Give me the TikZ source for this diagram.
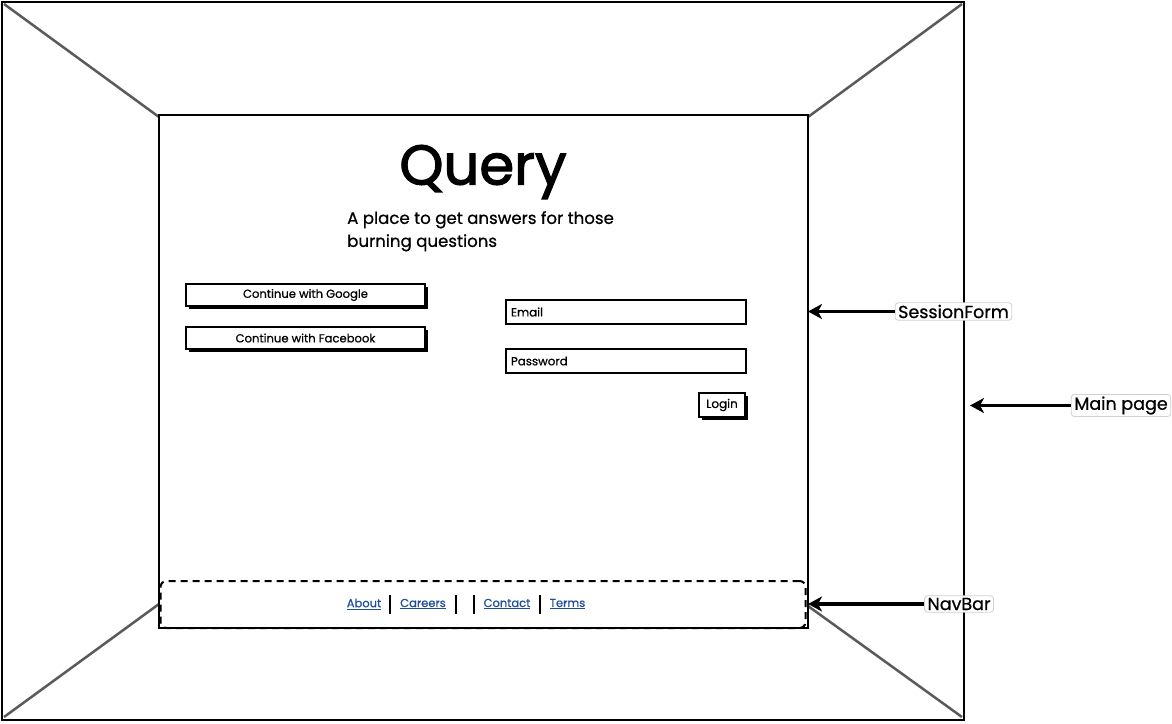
\documentclass[tikz,border=0pt]{standalone}
\usepackage{fontspec}
\setmainfont{Poppins}[FakeBold=0.7]
\newfontfamily\titlefont{Poppins}[FakeBold=2.2]
\usetikzlibrary{arrows.meta,shadows}
\definecolor{linkblue}{HTML}{1F4E9C}
\definecolor{diag}{HTML}{5A5A5A}
\tikzset{
  frame/.style={draw=black,line width=2pt},
  diagline/.style={draw=diag,line width=2.5pt},
  page/.style={draw=black,line width=2pt,fill=white,minimum width=649pt,minimum height=513pt,inner sep=0pt},
  btn/.style={draw=black,line width=1.5pt,fill=white,minimum width=239pt,minimum height=22pt,inner sep=0pt,
    drop shadow={shadow xshift=2.5pt,shadow yshift=-2.5pt,fill=black,opacity=1},font=\fontsize{11.6}{12}\selectfont},
  field/.style={draw=black,line width=2pt,fill=white,minimum height=24pt,text width=230pt,align=left,inner xsep=5pt,inner ysep=0pt,font=\fontsize{11.8}{12}\selectfont},
  loginbtn/.style={draw=black,line width=1.8pt,fill=white,minimum width=46pt,minimum height=24pt,inner sep=0pt,
    drop shadow={shadow xshift=2.5pt,shadow yshift=-2.5pt,fill=black,opacity=1},font=\fontsize{12}{12}\selectfont},
  navbar/.style={draw=black,line width=2pt,dash pattern=on 7pt off 5pt,rounded corners=6pt,minimum width=645pt,minimum height=47pt,inner sep=0pt},
  navlink/.style={text=linkblue,font=\fontsize{11.5}{12}\selectfont,inner sep=1pt},
  navsep/.style={draw=black,line width=2pt},
  lbl/.style={draw=black!18,line width=0.8pt,fill=white,rounded corners=3pt,inner xsep=3pt,inner ysep=2pt,font=\fontsize{17.5}{18}\selectfont},
  arr/.style={draw=black,line width=3.8pt,-{Stealth[length=14pt,width=15pt,inset=4pt]}}
}
\begin{document}
\begin{tikzpicture}[x=1pt,y=-1pt]
\useasboundingbox (0,0) rectangle (1172,723);
% outer frame
\node[frame,minimum width=962pt,minimum height=718pt,inner sep=0pt] (outer) at (483,361) {};
\coordinate (o1) at (4,4);
\coordinate (o2) at (962,4);
\coordinate (o3) at (4,717);
\coordinate (o4) at (962,717);
\coordinate (i1) at (159,117);
\coordinate (i2) at (808,117);
\coordinate (i3) at (159,604);
\coordinate (i4) at (808,606);
\draw[diagline] (o1) -- (i1);
\draw[diagline] (o2) -- (i2);
\draw[diagline] (o3) -- (i3);
\draw[diagline] (o4) -- (i4);
% page
\node[page] (page) at (483.5,371.5) {};
\node[font=\titlefont\fontsize{56}{58}\selectfont,inner sep=0pt] (title) at (483,172) {Query};
\node[font=\fontsize{16.6}{23}\selectfont,align=left,anchor=north west,inner sep=0pt] (sub) at (347,211) {A place to get answers for those\\burning questions};
\node[btn] (google) at (305.5,295) {Continue with Google};
\node[btn] (fb) at (305.5,338) {Continue with Facebook};
\node[field] (email) at (626,312) {Email};
\node[field] (pwd) at (626,361) {Password};
\node[loginbtn] (login) at (722,405) {Login};
% navbar
\node[navbar] (nav) at (483,604.5) {};
\node[navlink] (about) at (364,604) {\underline{About}};
\node[navlink] (careers) at (423,604) {\underline{Careers}};
\node[navlink] (contact) at (507,604) {\underline{Contact}};
\node[navlink] (terms) at (567.5,604) {\underline{Terms}};
\coordinate (s1a) at (390,595); \coordinate (s1b) at (390,614);
\coordinate (s2a) at (456,595); \coordinate (s2b) at (456,614);
\coordinate (s3a) at (474,595); \coordinate (s3b) at (474,614);
\coordinate (s4a) at (540,595); \coordinate (s4b) at (540,614);
\draw[navsep] (s1a) -- (s1b);
\draw[navsep] (s2a) -- (s2b);
\draw[navsep] (s3a) -- (s3b);
\draw[navsep] (s4a) -- (s4b);
% labels
\node[lbl] (lsf) at (953.5,311.5) {SessionForm};
\node[lbl] (lmain) at (1121,405.5) {Main page};
\node[lbl] (lnav) at (959,604) {NavBar};
\coordinate (tsf) at (808,311.5);
\coordinate (tmain) at (970,405.5);
\coordinate (tnav) at (808,604);
\draw[arr] (lsf) -- (tsf);
\draw[arr] (lmain) -- (tmain);
\draw[arr] (lnav) -- (tnav);
\end{tikzpicture}
\end{document}
